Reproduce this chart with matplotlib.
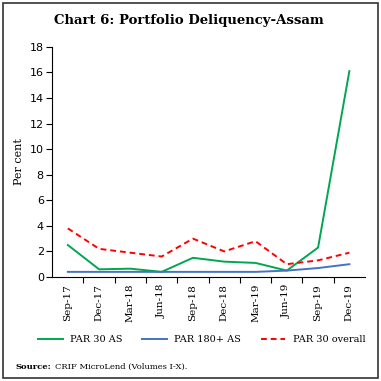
import matplotlib
matplotlib.use("Agg")
import matplotlib.pyplot as plt
from matplotlib.patches import Rectangle
import numpy as np

quarters = ["Sep-17", "Dec-17", "Mar-18", "Jun-18", "Sep-18", "Dec-18",
            "Mar-19", "Jun-19", "Sep-19", "Dec-19"]
par30_as = [2.5, 0.6, 0.65, 0.4, 1.5, 1.2, 1.1, 0.5, 2.3, 16.1]
par180_as = [0.4, 0.4, 0.4, 0.4, 0.4, 0.4, 0.4, 0.5, 0.7, 1.0]
par30_overall = [3.8, 2.2, 1.9, 1.6, 3.0, 2.0, 2.8, 1.0, 1.3, 1.9]


def main():
    fig = plt.figure(figsize=(3.81, 3.81), dpi=100)
    ax = fig.add_axes([0.137, 0.273, 0.821, 0.604])
    x = np.arange(len(quarters))

    ax.plot(x, par30_as, color="#00a650", lw=1.4, label="PAR 30 AS")
    ax.plot(x, par180_as, color="#4472c4", lw=1.4, label="PAR 180+ AS")
    ax.plot(x, par30_overall, color="#ff0000", lw=1.4, ls=(0, (3, 2)),
            label="PAR 30 overall")

    ax.set_xlim(-0.5, len(quarters) - 0.5)
    ax.set_ylim(0, 18)
    ax.set_yticks(range(0, 19, 2))
    ax.set_xticks(x)
    ax.set_xticklabels(quarters, rotation=90, family="DejaVu Serif", fontsize=7.5)
    ax.set_xticks(np.arange(0.5, len(quarters) - 0.5), minor=True)
    ax.tick_params(axis="x", which="major", length=0, pad=5)
    ax.tick_params(axis="x", which="minor", length=4, width=0.8)
    ax.tick_params(axis="y", length=4, width=0.8, labelsize=8, pad=2)
    ax.spines["top"].set_visible(False)
    ax.spines["right"].set_visible(False)
    ax.set_ylabel("Per cent", family="DejaVu Serif", fontsize=8, labelpad=4)

    fig.text(0.495, 0.945, "Chart 6: Portfolio Deliquency-Assam", ha="center",
             va="center", family="DejaVu Serif", fontweight="bold", fontsize=9.5)

    fig.legend(loc="center", bbox_to_anchor=(0.53, 0.108), ncol=3, frameon=False,
               prop={"family": "DejaVu Serif", "size": 7}, handlelength=2.5,
               columnspacing=2.0, handletextpad=0.8)

    fig.text(0.04, 0.038, "Source:", fontweight="bold", family="DejaVu Serif",
             fontsize=6, va="center")
    fig.text(0.145, 0.038, "CRIF MicroLend (Volumes I-X).", family="DejaVu Serif",
             fontsize=6, va="center")

    fig.patches.append(Rectangle((0.008, 0.008), 0.984, 0.984, transform=fig.transFigure,
                                 fill=False, lw=1.2, ec="#333333"))

    fig.savefig("out.png", dpi=100)


if __name__ == "__main__":
    main()
